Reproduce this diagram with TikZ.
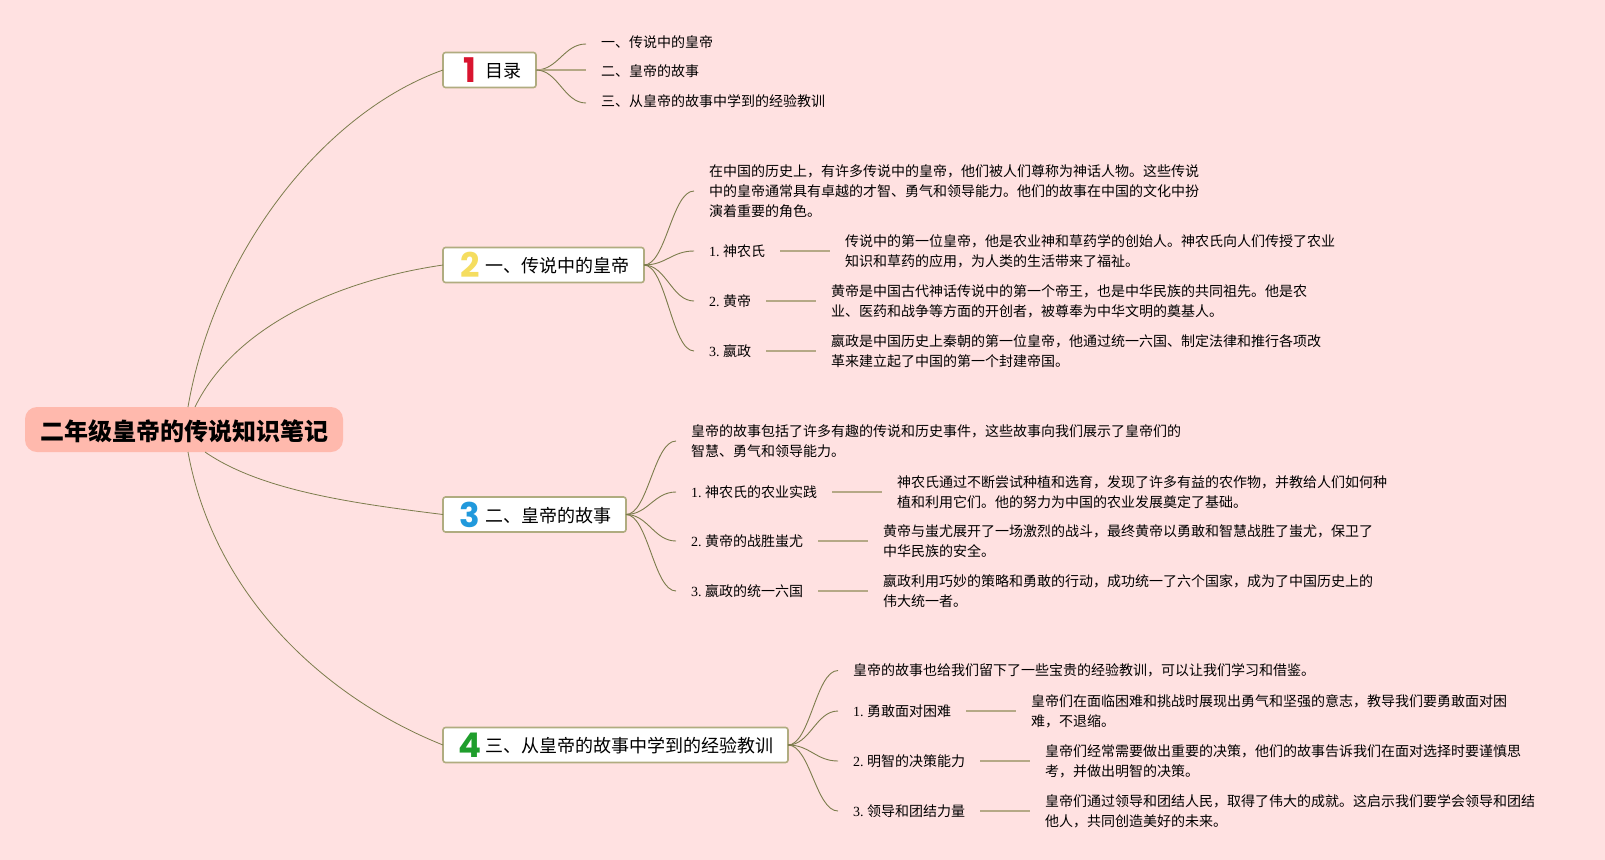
\documentclass[tikz,border=0pt]{standalone}
\usepackage{fontspec}
\setmainfont{Liberation Serif}
\newfontfamily\cjk{Noto Sans CJK SC}
\newfontfamily\digitf{Poppins}[BoldFont={Poppins Bold}]
\usetikzlibrary{calc}
\definecolor{bgc}{HTML}{FFE1E1}
\definecolor{rootc}{HTML}{FFB9AD}
\definecolor{edgec}{HTML}{B0AC80}
\definecolor{curvec}{HTML}{7C7C4C}
\definecolor{linec}{HTML}{B5A886}
\newcommand\lab[1]{{\rmfamily #1.\hspace{3.5pt}}}
\tikzset{
  x=1pt,y=-1pt,
  rootbox/.style={fill=rootc,rounded corners=12pt,minimum width=318pt,minimum height=45pt,inner sep=0,outer sep=0},
  roottext/.style={inner sep=0,font={\fontsize{24}{28}\selectfont\cjk\bfseries},text=black},
  topic/.style={draw=edgec,line width=1.6pt,fill=white,rounded corners=2.5pt,minimum height=35pt,inner sep=0,outer sep=0},
  digit/.style={inner sep=0,font={\fontsize{34}{34}\selectfont\digitf\bfseries}},
  title/.style={anchor=west,inner sep=0,font={\fontsize{18}{22}\selectfont\cjk}},
  body/.style={anchor=west,inner sep=0,align=left,font={\fontsize{14}{20}\selectfont\cjk}},
  mainlink/.style={draw=curvec,line width=0.8pt},
  scurve/.style={draw=curvec,line width=0.9pt,to path={let \p1=(\tikztostart),\p2=(\tikztotarget) in .. controls (\x1+22pt,\y1) and (\x2-22pt,\y2) .. (\tikztotarget)}},
  hline/.style={draw=linec,line width=1.5pt}
}
\begin{document}
\begin{tikzpicture}
\useasboundingbox[fill=bgc] (0,0) rectangle (1605,859.5);

\node[rootbox] (root) at (184,429.5) {};
\node[roottext] (rt) at (184.5,431) {二年级皇帝的传说知识笔记};

\node[topic,minimum width=93pt] (t1) at (489.5,70) {};
\node[topic,minimum width=201pt] (t2) at (543.5,265) {};
\node[topic,minimum width=183pt] (t3) at (534.5,514.5) {};
\node[topic,minimum width=345pt] (t4) at (615.5,745) {};

\node[digit,text={rgb,255:red,217;green,20;blue,47}] (d1) at (470,70) {1};
\node[digit,text={rgb,255:red,245;green,221;blue,95}] (d2) at (470,265) {2};
\node[digit,text={rgb,255:red,33;green,153;blue,220}] (d3) at (470,514.5) {3};
\node[digit,text={rgb,255:red,31;green,158;blue,44}] (d4) at (470,745) {4};
\node[title] (n1) at (485,71) {目录};
\node[title] (n2) at (485,266) {一、传说中的皇帝};
\node[title] (n3) at (485,515.5) {二、皇帝的故事};
\node[title] (n4) at (485,746) {三、从皇帝的故事中学到的经验教训};

\draw[mainlink] ([xshift=4pt]root.north) .. controls (215,250) and (325,112) .. (t1.west);
\draw[mainlink] ([xshift=11pt]root.north) .. controls (235,325) and (340,280) .. (t2.west);
\draw[mainlink] ([xshift=21pt]root.south) .. controls (260,490) and (350,503) .. (t3.west);
\draw[mainlink] ([xshift=4pt]root.south) .. controls (215,600) and (330,700) .. (t4.west);

% branch 1
\node[body] (a1) at (601,42) {一、传说中的皇帝};
\node[body] (a2) at (601,71.5) {二、皇帝的故事};
\node[body] (a3) at (601,101.5) {三、从皇帝的故事中学到的经验教训};
\draw[scurve] (t1.east) to ([xshift=-15pt,yshift=-2pt]a1.west);
\draw[hline] (t1.east) -- ([xshift=-15pt]t1.east -| a2.west);
\draw[scurve] (t1.east) to ([xshift=-15pt,yshift=-1.5pt]a3.west);

% branch 2
\node[body] (b0) at (709,191) {在中国的历史上，有许多传说中的皇帝，他们被人们尊称为神话人物。这些传说\\中的皇帝通常具有卓越的才智、勇气和领导能力。他们的故事在中国的文化中扮\\演着重要的角色。};
\node[body] (b1) at (709,251) {\lab{1}神农氏};
\node[body] (b2) at (709,301) {\lab{2}黄帝};
\node[body] (b3) at (709,351) {\lab{3}嬴政};
\node[body] (b1d) at (845,251) {传说中的第一位皇帝，他是农业神和草药学的创始人。神农氏向人们传授了农业\\知识和草药的应用，为人类的生活带来了福祉。};
\node[body] (b2d) at (831,301) {黄帝是中国古代神话传说中的第一个帝王，也是中华民族的共同祖先。他是农\\业、医药和战争等方面的开创者，被尊奉为中华文明的奠基人。};
\node[body] (b3d) at (831,351) {嬴政是中国历史上秦朝的第一位皇帝，他通过统一六国、制定法律和推行各项改\\革来建立起了中国的第一个封建帝国。};
\draw[scurve] (t2.east) to ([xshift=-15pt]b0.west);
\draw[scurve] (t2.east) to ([xshift=-15pt]b1.west);
\draw[scurve] (t2.east) to ([xshift=-15pt]b2.west);
\draw[scurve] (t2.east) to ([xshift=-15pt]b3.west);
\draw[hline] ([xshift=15pt]b1.east) -- ([xshift=-15pt]b1d.west);
\draw[hline] ([xshift=15pt]b2.east) -- ([xshift=-15pt]b2d.west);
\draw[hline] ([xshift=15pt]b3.east) -- ([xshift=-15pt]b3d.west);

% branch 3
\node[body] (c0) at (691,441) {皇帝的故事包括了许多有趣的传说和历史事件，这些故事向我们展示了皇帝们的\\智慧、勇气和领导能力。};
\node[body] (c1) at (691,492) {\lab{1}神农氏的农业实践};
\node[body] (c2) at (691,541) {\lab{2}黄帝的战胜蚩尤};
\node[body] (c3) at (691,591) {\lab{3}嬴政的统一六国};
\node[body] (c1d) at (897,492) {神农氏通过不断尝试种植和选育，发现了许多有益的农作物，并教给人们如何种\\植和利用它们。他的努力为中国的农业发展奠定了基础。};
\node[body] (c2d) at (883,541) {黄帝与蚩尤展开了一场激烈的战斗，最终黄帝以勇敢和智慧战胜了蚩尤，保卫了\\中华民族的安全。};
\node[body] (c3d) at (883,591) {嬴政利用巧妙的策略和勇敢的行动，成功统一了六个国家，成为了中国历史上的\\伟大统一者。};
\draw[scurve] (t3.east) to ([xshift=-15pt]c0.west);
\draw[scurve] (t3.east) to ([xshift=-15pt]c1.west);
\draw[scurve] (t3.east) to ([xshift=-15pt]c2.west);
\draw[scurve] (t3.east) to ([xshift=-15pt]c3.west);
\draw[hline] ([xshift=15pt]c1.east) -- ([xshift=-15pt]c1d.west);
\draw[hline] ([xshift=15pt]c2.east) -- ([xshift=-15pt]c2d.west);
\draw[hline] ([xshift=15pt]c3.east) -- ([xshift=-15pt]c3d.west);

% branch 4
\node[body] (e0) at (853,670.5) {皇帝的故事也给我们留下了一些宝贵的经验教训，可以让我们学习和借鉴。};
\node[body] (e1) at (853,711) {\lab{1}勇敢面对困难};
\node[body] (e2) at (853,761) {\lab{2}明智的决策能力};
\node[body] (e3) at (853,811) {\lab{3}领导和团结力量};
\node[body] (e1d) at (1031,711) {皇帝们在面临困难和挑战时展现出勇气和坚强的意志，教导我们要勇敢面对困\\难，不退缩。};
\node[body] (e2d) at (1045,761) {皇帝们经常需要做出重要的决策，他们的故事告诉我们在面对选择时要谨慎思\\考，并做出明智的决策。};
\node[body] (e3d) at (1045,811) {皇帝们通过领导和团结人民，取得了伟大的成就。这启示我们要学会领导和团结\\他人，共同创造美好的未来。};
\draw[scurve] (t4.east) to ([xshift=-15pt]e0.west);
\draw[scurve] (t4.east) to ([xshift=-15pt]e1.west);
\draw[scurve] (t4.east) to ([xshift=-15pt]e2.west);
\draw[scurve] (t4.east) to ([xshift=-15pt]e3.west);
\draw[hline] ([xshift=15pt]e1.east) -- ([xshift=-15pt]e1d.west);
\draw[hline] ([xshift=15pt]e2.east) -- ([xshift=-15pt]e2d.west);
\draw[hline] ([xshift=15pt]e3.east) -- ([xshift=-15pt]e3d.west);
\end{tikzpicture}
\end{document}
